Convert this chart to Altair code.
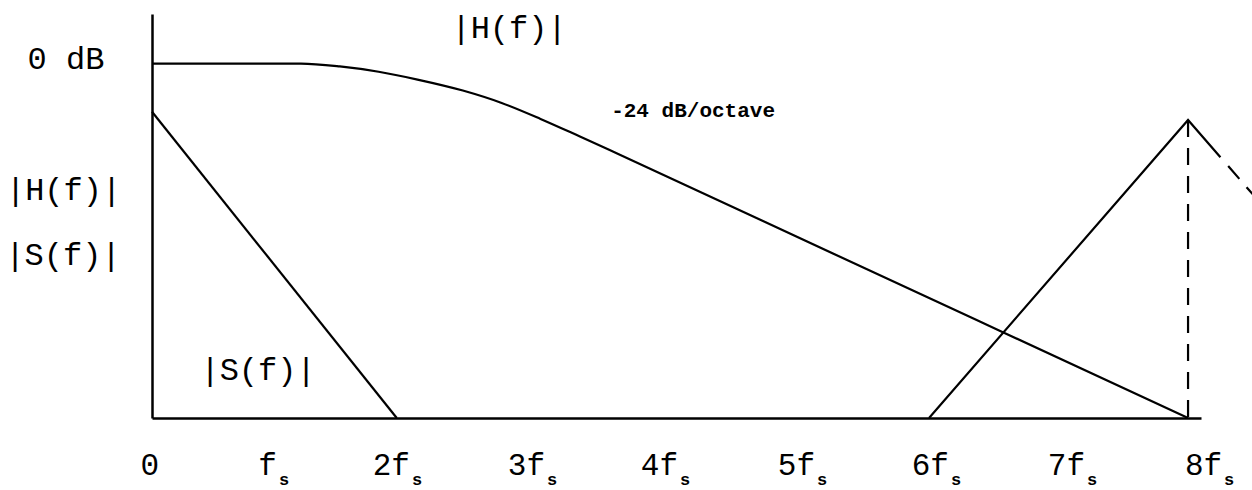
import altair as alt
import pandas as pd

# ---- data (x in units of f_s, y in arbitrary level units, 0 dB = 100) ----
h_f = [0, 0.75, 1.15, 1.45, 1.75, 2.05, 2.4, 2.7, 3.0, 3.3, 3.6, 5.3, 6.57, 8.0]
h_level = [100, 100, 100, 99.2, 97.7, 95.5, 92.4, 88.9, 84.4, 79.5, 74.5, 45.7, 24.2, 0]

s_base_f = [0, 1.89]
s_base_level = [86.4, 0]

s_image_f = [6.0, 8.0, 8.25]
s_image_level = [0, 84.1, 73.6]

s_tail_f = [8.31, 8.7]
s_tail_level = [71.1, 54.7]

fs8_f = [8.0]
fs8_top = [84.1]
fs8_bottom = [0]

tick_texts = ["0", "f", "2f", "3f", "4f", "5f", "6f", "7f", "8f"]
tick_sub = ["", "s", "s", "s", "s", "s", "s", "s", "s"]
tick_pos = [0.054, 0.965, 1.992, 3.035, 4.062, 5.12, 6.154, 7.205, 8.263]
tick_row = -16.1
sub_row = -18.8

label_texts = ["|H(f)|", "0 dB", "|H(f)|", "|S(f)|", "|S(f)|"]
label_f = [2.757, -0.664, -0.683, -0.687, 0.819]
label_level = [107.2, 98.5, 61.6, 43.2, 10.7]

slope_text = ["-24  dB/octave"]
slope_f = [4.178]
slope_level = [84.9]

# ---- tables ----
hcurve = pd.DataFrame({"f": h_f, "level": h_level})
solid = pd.DataFrame(
    [{"series": "S", "order": i, "f": a, "level": b} for i, (a, b) in enumerate(zip(s_base_f, s_base_level))]
    + [{"series": "S8", "order": i, "f": a, "level": b} for i, (a, b) in enumerate(zip(s_image_f, s_image_level))]
)
tail = pd.DataFrame({"f": s_tail_f, "level": s_tail_level})
vline = pd.DataFrame({"f": fs8_f, "top": fs8_top, "bottom": fs8_bottom})
ticks = pd.DataFrame({"text": tick_texts, "sub": tick_sub, "f": tick_pos,
                      "row": [tick_row] * len(tick_texts), "subrow": [sub_row] * len(tick_texts)})
labels = pd.DataFrame({"text": label_texts, "f": label_f, "level": label_level})
slope = pd.DataFrame({"text": slope_text, "f": slope_f, "level": slope_level})

xs = alt.Scale(domain=[0, 8.1], nice=False, zero=False)
ys = alt.Scale(domain=[0, 114], nice=False, zero=False)
xax = alt.Axis(title=None, labels=False, ticks=False, grid=False, domainColor="black", domainWidth=2.5)
yax = alt.Axis(title=None, labels=False, ticks=False, grid=False, domainColor="black", domainWidth=2.5)

h_line = alt.Chart(hcurve).mark_line(color="black", strokeWidth=2.2, interpolate="monotone").encode(
    x=alt.X("f:Q", scale=xs, axis=xax),
    y=alt.Y("level:Q", scale=ys, axis=yax),
    order="f:Q",
)

lines = alt.Chart(solid).mark_line(color="black", strokeWidth=2.2).encode(
    x=alt.X("f:Q", scale=xs),
    y=alt.Y("level:Q", scale=ys),
    detail="series:N",
    order="order:Q",
)

tail_line = alt.Chart(tail).mark_line(color="black", strokeWidth=2.2, strokeDash=[17, 11]).encode(
    x=alt.X("f:Q", scale=xs),
    y=alt.Y("level:Q", scale=ys),
)

vrule = alt.Chart(vline).mark_rule(color="black", strokeWidth=2.2, strokeDash=[17, 11]).encode(
    x=alt.X("f:Q", scale=xs),
    y=alt.Y("top:Q", scale=ys),
    y2="bottom:Q",
)

tick_text = alt.Chart(ticks).mark_text(font="Liberation Mono", fontSize=31, align="right",
                                       baseline="alphabetic", color="black").encode(
    x=alt.X("f:Q", scale=xs), y=alt.Y("row:Q", scale=ys), text="text:N")

sub_text = alt.Chart(ticks).mark_text(font="Liberation Mono", fontSize=17, fontWeight="bold",
                                      align="left", baseline="alphabetic", dx=2, color="black").encode(
    x=alt.X("f:Q", scale=xs), y=alt.Y("subrow:Q", scale=ys), text="sub:N")

label_text = alt.Chart(labels).mark_text(font="Liberation Mono", fontSize=32, align="center",
                                         baseline="alphabetic", color="black").encode(
    x=alt.X("f:Q", scale=xs), y=alt.Y("level:Q", scale=ys), text="text:N")

slope_label = alt.Chart(slope).mark_text(font="Liberation Mono", fontSize=21, fontWeight="bold",
                                         align="center", baseline="alphabetic", color="black").encode(
    x=alt.X("f:Q", scale=xs), y=alt.Y("level:Q", scale=ys), text="text:N")

chart = alt.layer(h_line, lines, tail_line, vrule, tick_text, sub_text, label_text, slope_label).properties(
    width=1049,
    height=404,
    padding={"left": 152, "top": 14, "right": 51, "bottom": 72},
    autosize=alt.AutoSizeParams(type="none"),
    background="white",
).configure_view(stroke=None)

chart.save("out.html", embed_options={"renderer": "svg", "actions": False})
